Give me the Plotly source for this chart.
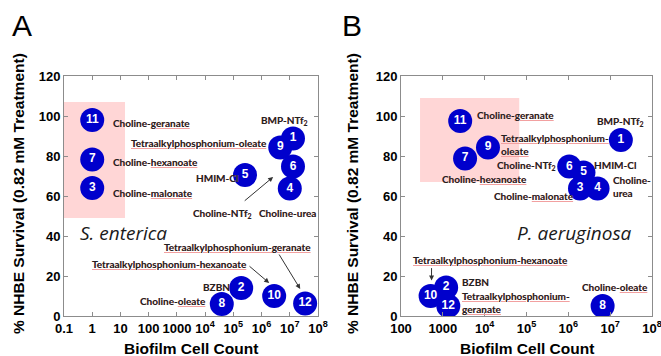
import numpy as np
import plotly.graph_objects as go

# ---------------- data ----------------
compound_ids = ["1", "2", "3", "4", "5", "6", "7", "8", "9", "10", "11", "12"]
compound_names = ["BMP-NTf2", "BZBN", "Choline-malonate", "Choline-urea", "HMIM-Cl",
                  "Choline-NTf2", "Choline-hexanoate", "Choline-oleate",
                  "Tetraalkylphosphonium-oleate", "Tetraalkylphosphonium-hexanoate",
                  "Choline-geranate", "Tetraalkylphosphonium-geranate"]

# Panel A: S. enterica
a_cell_count = [1.3e7, 1.9e5, 1, 1.0e7, 2.6e5, 1.3e7, 1, 3.9e4, 4.6e6, 2.8e6, 1, 3.5e7]
a_survival = [88.8, 14, 64, 63.7, 70.5, 74.7, 78.3, 6, 84.3, 10, 98, 6.3]

# Panel B: P. aeruginosa
b_cell_count = [1.8e7, 1200, 1.9e6, 5.0e6, 2.3e6, 1.05e6, 3400, 6.6e6, 1.2e4, 510, 2600, 1350]
b_survival = [88, 14.3, 63.8, 63.8, 71.8, 74.7, 78.8, 5, 84.3, 10, 97.5, 5]

# highlighted regions
a_highlight_count = [0.1, 14.5]
a_highlight_survival = [49, 107]
b_highlight_count = [285, 67000]
b_highlight_survival = [67, 109]

y_ticks = [0, 20, 40, 60, 80, 100, 120]
a_xtick_vals = [0.1, 1, 10, 100, 1000, 1e4, 1e5, 1e6, 1e7, 1e8]
a_xtick_text = ["0.1", "1", "10", "100", "1000", "10<sup>4</sup>", "10<sup>5</sup>",
                "10<sup>6</sup>", "10<sup>7</sup>", "10<sup>8</sup>"]
b_xtick_vals = [100, 1000, 1e4, 1e5, 1e6, 1e7, 1e8]
b_xtick_text = ["100", "1000", "10<sup>4</sup>", "10<sup>5</sup>", "10<sup>6</sup>",
                "10<sup>7</sup>", "10<sup>8</sup>"]

# label layout (x in log10 units as Plotly annotations need); [..] = spell-check underline
a_labels = [
    ("Choline-[geranate]", 0.70, 96.5, "left"),
    ("Choline-[hexanoate]", 0.70, 77, "left"),
    ("Choline-[malonate]", 0.70, 61.5, "left"),
    ("BMP-NTf<sub>2</sub>", 7.69, 97.5, "right"),
    ("[Tetraalkylphosphonium-oleate]", 1.34, 86.5, "left"),
    ("HMIM-Cl", 3.65, 69, "left"),
    ("Choline-NTf<sub>2</sub>", 3.54, 51.5, "left"),
    ("Choline-urea", 5.88, 51.5, "left"),
    ("[Tetraalkylphosphonium-geranate]", 2.51, 34.5, "left"),
    ("[Tetraalkylphosphonium-hexanoate]", -0.04, 26, "left"),
    ("BZBN", 3.89, 14.5, "left"),
    ("Choline-[oleate]", 1.66, 7.5, "left"),
]
b_labels = [
    ("Choline-[geranate]", 3.79, 100.5, "left"),
    ("BMP-NTf<sub>2</sub>", 7.84, 97, "right"),
    ("[Tetraalkylphosphonium-]<br>[oleate]", 4.37, 86, "left"),
    ("Choline-NTf<sub>2</sub>", 5.73, 75.5, "right"),
    ("HMIM-Cl", 6.59, 75.5, "left"),
    ("Choline-[hexanoate]", 2.96, 68.5, "left"),
    ("Choline-<br>urea", 7.05, 65, "left"),
    ("Choline-[malonate]", 4.20, 60, "left"),
    ("[Tetraalkylphosphonium-hexanoate]", 2.26, 28, "left"),
    ("BZBN", 3.44, 17, "left"),
    ("[Tetraalkylphosphonium-]<br>[geranate]", 3.44, 7, "left"),
    ("Choline-[oleate]", 6.31, 14.5, "left"),
]
# arrows: head (logx, y) <- tail (logx, y)
a_arrows = [(6.41, 69.5, 5.35, 57), (6.27, 16.5, 5.52, 25.5), (7.37, 13.5, 6.59, 31.5)]
b_arrows = [(2.73, 17.7, 2.73, 24.7)]

BLUE = "#0000cc"
PINK = "#ffd6d6"
AXIS = "#8c8c8c"
LABEL_FONT = dict(family="Lato, Open Sans, sans-serif", size=10, color="#222222", weight="bold")
UNDER_FONT = dict(family="Lato, Open Sans, sans-serif", size=10, color="#f2a0a0", weight="bold")
SPECIES_FONT = dict(family="Open Sans, sans-serif", size=19, color="#1a1a1a")
ARIAL = "Liberation Sans, Arial, sans-serif"

fig = go.Figure()

for hx, hy, xa, ya in [(a_highlight_count, a_highlight_survival, "x", "y"),
                       (b_highlight_count, b_highlight_survival, "x2", "y2")]:
    fig.add_trace(go.Scatter(
        x=[hx[0], hx[1], hx[1], hx[0], hx[0]], y=[hy[0], hy[0], hy[1], hy[1], hy[0]],
        fill="toself", fillcolor=PINK, line=dict(width=0), mode="lines",
        hoverinfo="skip", showlegend=False, xaxis=xa, yaxis=ya))

for cx, sy, xa, ya in [(a_cell_count, a_survival, "x", "y"),
                       (b_cell_count, b_survival, "x2", "y2")]:
    fig.add_trace(go.Scatter(
        x=cx, y=sy, mode="markers+text", text=[f"<b>{c}</b>" for c in compound_ids],
        textposition="middle center",
        textfont=dict(family=ARIAL, size=12, color="white"),
        marker=dict(size=24, color=BLUE, line=dict(width=0)),
        customdata=compound_names, hovertemplate="%{customdata}<extra></extra>",
        showlegend=False, xaxis=xa, yaxis=ya))

annotations = []
for labels, xr, yr in [(a_labels, "x", "y"), (b_labels, "x2", "y2")]:
    for markup, lx, ly, anchor in labels:
        under = markup.replace("[", "<u>").replace("]", "</u>")
        plain = markup.replace("[", "").replace("]", "")
        for txt, fnt in [(under, UNDER_FONT), (plain, LABEL_FONT)]:
            annotations.append(dict(text=txt, x=lx, y=ly, xref=xr, yref=yr, xanchor=anchor,
                                    yanchor="middle", align="left", showarrow=False,
                                    font=fnt, borderpad=0))

for arrows, xr, yr in [(a_arrows, "x", "y"), (b_arrows, "x2", "y2")]:
    for hx, hy, tx, ty in arrows:
        annotations.append(dict(text="", x=hx, y=hy, ax=tx, ay=ty, xref=xr, yref=yr,
                                axref=xr, ayref=yr, showarrow=True, arrowhead=2,
                                arrowsize=1, arrowwidth=1, arrowcolor="#333333", standoff=0))

# species names
annotations.append(dict(text="<i>S. enterica</i>", x=-0.5, y=41.5, xref="x", yref="y",
                        xanchor="left", yanchor="middle", showarrow=False, font=SPECIES_FONT))
annotations.append(dict(text="<i>P. aeruginosa</i>", x=4.73, y=41.5, xref="x2", yref="y2",
                        xanchor="left", yanchor="middle", showarrow=False, font=SPECIES_FONT))

W, H = 661, 356
# panel letters and axis titles
for letter, px in [("A", 22), ("B", 352)]:
    annotations.append(dict(text=letter, x=px / W, y=1 - 26 / H, xref="paper", yref="paper",
                            xanchor="center", yanchor="middle", showarrow=False,
                            font=dict(family=ARIAL, size=30, color="black")))
for px in [18, 352]:
    annotations.append(dict(text="<b>% NHBE Survival (0.82 mM Treatment)</b>", x=px / W,
                            y=1 - 194 / H, xref="paper", yref="paper", textangle=-90,
                            xanchor="center", yanchor="middle", showarrow=False,
                            font=dict(family=ARIAL, size=15.5, color="black")))
for px in [191, 527]:
    annotations.append(dict(text="<b>Biofilm Cell Count</b>", x=px / W, y=1 - 348 / H,
                            xref="paper", yref="paper", xanchor="center", yanchor="middle",
                            showarrow=False, font=dict(family=ARIAL, size=15.5, color="black")))

axis_common = dict(showline=True, linecolor=AXIS, linewidth=1, mirror="ticks", ticks="inside",
                   ticklen=4, tickcolor=AXIS, showgrid=False, zeroline=False, automargin=False,
                   ticklabeloverflow="allow",
                   tickfont=dict(family=ARIAL, size=13, color="black", weight="bold"))

fig.update_layout(
    width=W, height=H, margin=dict(l=0, r=0, t=0, b=0, autoexpand=False),
    paper_bgcolor="white", plot_bgcolor="white", showlegend=False,
    xaxis=dict(type="log", range=[-1, 8], domain=[64 / W, 318 / W], anchor="y",
               tickvals=a_xtick_vals, ticktext=a_xtick_text, **axis_common),
    yaxis=dict(range=[0, 120], domain=[1 - 316 / H, 1 - 76 / H], anchor="x",
               tickvals=y_ticks, **axis_common),
    xaxis2=dict(type="log", range=[2, 8], domain=[401 / W, 652 / W], anchor="y2",
                tickvals=b_xtick_vals, ticktext=b_xtick_text, **axis_common),
    yaxis2=dict(range=[0, 120], domain=[1 - 316 / H, 1 - 76 / H], anchor="x2",
                tickvals=y_ticks, **axis_common),
    annotations=annotations,
)

fig.write_html("out.html", config={"displayModeBar": False},
               post_script="document.body.style.margin='0px';")
